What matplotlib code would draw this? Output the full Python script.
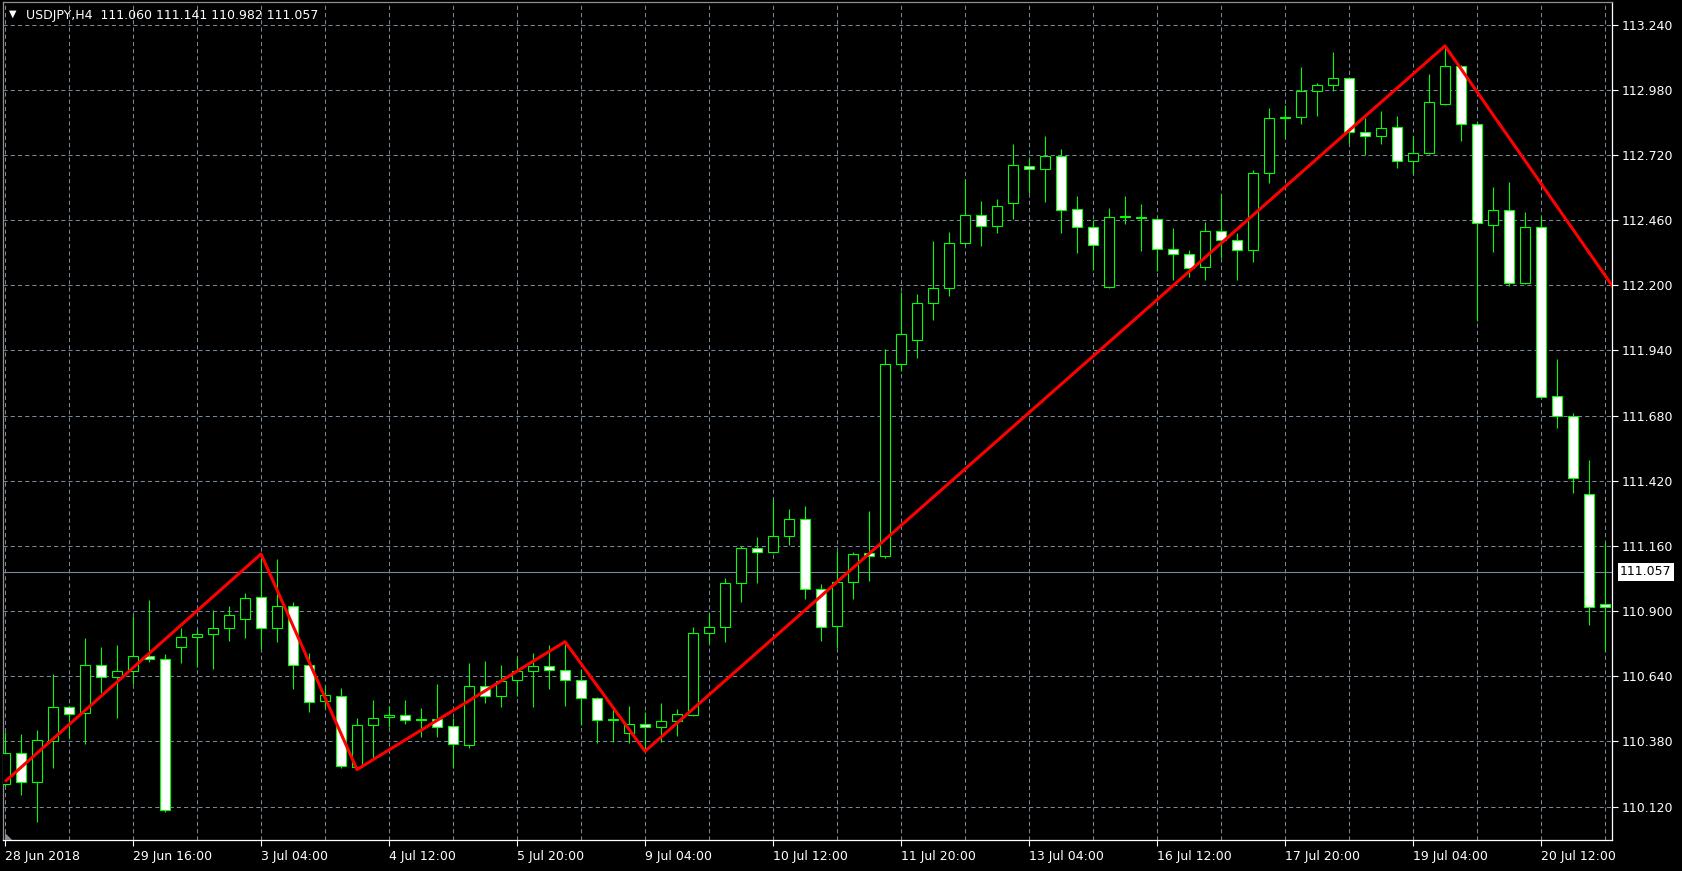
import numpy as np
import matplotlib.pyplot as plt
from matplotlib.patches import Polygon
from matplotlib.transforms import blended_transform_factory

plt.rcParams['lines.scale_dashes'] = False

# USDJPY H4 candles
opens = [110.209, 110.333, 110.217, 110.381, 110.516, 110.493, 110.684, 110.636, 110.660, 110.720,
         110.708, 110.758, 110.796, 110.808, 110.832, 110.867, 110.955, 110.832, 110.919, 110.684,
         110.540, 110.560, 110.280, 110.445, 110.477, 110.485, 110.467, 110.469, 110.441, 110.365,
         110.600, 110.560, 110.624, 110.660, 110.680, 110.664, 110.624, 110.552, 110.467, 110.413,
         110.449, 110.437, 110.461, 110.485, 110.814, 110.836, 111.011, 111.151, 111.135, 111.199,
         111.266, 110.987, 110.840, 111.015, 111.131, 111.119, 111.885, 111.980, 112.128, 112.188,
         112.367, 112.479, 112.435, 112.527, 112.677, 112.662, 112.714, 112.503, 112.431, 112.192,
         112.471, 112.469, 112.463, 112.343, 112.323, 112.271, 112.415, 112.379, 112.339, 112.646,
         112.868, 112.870, 112.974, 112.997, 113.025, 112.810, 112.794, 112.830, 112.694, 112.726,
         112.923, 113.074, 112.845, 112.442, 112.502, 112.208, 112.434, 111.759, 111.677, 111.368,
         110.928]
highs = [110.418, 110.410, 110.425, 110.648, 110.520, 110.792, 110.757, 110.765, 110.881, 110.944,
         110.729, 110.834, 110.830, 110.905, 110.920, 110.971, 111.128, 111.107, 110.936, 110.732,
         110.601, 110.592, 110.473, 110.546, 110.522, 110.546, 110.514, 110.610, 110.473, 110.693,
         110.700, 110.684, 110.716, 110.733, 110.765, 110.778, 110.668, 110.556, 110.508, 110.520,
         110.497, 110.532, 110.508, 110.838, 110.894, 111.032, 111.160, 111.195, 111.347, 111.306,
         111.319, 111.007, 111.139, 111.135, 111.299, 111.944, 112.172, 112.164, 112.376, 112.411,
         112.623, 112.535, 112.543, 112.762, 112.706, 112.795, 112.743, 112.555, 112.459, 112.508,
         112.556, 112.524, 112.465, 112.428, 112.339, 112.452, 112.564, 112.410, 112.658, 112.906,
         112.919, 113.070, 113.005, 113.129, 113.030, 112.866, 112.894, 112.874, 112.794, 113.043,
         113.155, 113.080, 112.850, 112.590, 112.611, 112.492, 112.475, 111.906, 111.692, 111.502,
         111.177]
lows = [110.202, 110.167, 110.060, 110.276, 110.393, 110.371, 110.572, 110.473, 110.608, 110.698,
        110.100, 110.692, 110.678, 110.668, 110.782, 110.794, 110.748, 110.778, 110.591, 110.496,
        110.512, 110.273, 110.268, 110.313, 110.439, 110.449, 110.399, 110.399, 110.273, 110.355,
        110.532, 110.519, 110.560, 110.516, 110.588, 110.520, 110.445, 110.373, 110.377, 110.373,
        110.341, 110.377, 110.401, 110.481, 110.772, 110.778, 110.938, 111.013, 111.130, 111.165,
        110.947, 110.782, 110.752, 110.947, 111.020, 111.113, 111.859, 111.909, 112.060, 112.158,
        112.360, 112.358, 112.407, 112.463, 112.567, 112.533, 112.410, 112.330, 112.260, 112.190,
        112.445, 112.338, 112.258, 112.222, 112.234, 112.222, 112.307, 112.222, 112.291, 112.609,
        112.786, 112.842, 112.874, 112.974, 112.766, 112.718, 112.762, 112.666, 112.642, 112.722,
        112.920, 112.776, 112.056, 112.334, 112.197, 112.205, 111.749, 111.631, 111.372, 110.844,
        110.741]
closes = [110.333, 110.217, 110.385, 110.516, 110.489, 110.684, 110.636, 110.660, 110.720, 110.708,
          110.107, 110.796, 110.808, 110.832, 110.883, 110.951, 110.832, 110.919, 110.684, 110.536,
          110.564, 110.281, 110.445, 110.473, 110.485, 110.465, 110.467, 110.437, 110.369, 110.600,
          110.560, 110.620, 110.660, 110.681, 110.664, 110.624, 110.552, 110.465, 110.467, 110.449,
          110.437, 110.461, 110.489, 110.812, 110.836, 111.011, 111.151, 111.135, 111.199, 111.266,
          110.987, 110.836, 111.015, 111.127, 111.119, 111.885, 112.004, 112.128, 112.188, 112.367,
          112.479, 112.435, 112.515, 112.678, 112.664, 112.714, 112.499, 112.431, 112.359, 112.471,
          112.471, 112.467, 112.343, 112.323, 112.267, 112.415, 112.379, 112.339, 112.646, 112.866,
          112.866, 112.974, 112.997, 113.025, 112.810, 112.794, 112.826, 112.694, 112.726, 112.930,
          113.074, 112.845, 112.447, 112.502, 112.208, 112.434, 111.755, 111.677, 111.433, 110.917,
          110.918]

# ZigZag vertices (bar index, price)
zz_idx = [0, 16, 22, 35, 40, 90, 101]
zz_price = [110.220, 111.128, 110.268, 110.778, 110.341, 113.155, 112.148]

bid = 111.057
title = "USDJPY,H4  111.060 111.141 110.982 111.057"
date_labels = ["28 Jun 2018", "29 Jun 16:00", "3 Jul 04:00", "4 Jul 12:00", "5 Jul 20:00",
               "9 Jul 04:00", "10 Jul 12:00", "11 Jul 20:00", "13 Jul 04:00", "16 Jul 12:00",
               "17 Jul 20:00", "19 Jul 04:00", "20 Jul 12:00"]
price_ticks = np.linspace(110.12, 113.24, 13)

o = np.array(opens)
h = np.array(highs)
l = np.array(lows)
c = np.array(closes)
x = np.arange(len(o))

green = '#00ff00'
grid_col = '#778899'

fig = plt.figure(figsize=(16.82, 8.71), dpi=100, facecolor='black')
ax = fig.add_axes([0.0015, 0.0356, 0.9569, 0.9621])
ax.set_facecolor('black')

# grid
ax.set_xticks(np.arange(0, len(x), 8))
ax.set_xticks(np.arange(0, len(x), 4), minor=True)
ax.set_yticks(price_ticks)
ax.grid(True, which='both', axis='x', color=grid_col, lw=0.75, linestyle=(0, (3, 2.2)), zorder=0)
ax.grid(True, which='major', axis='y', color=grid_col, lw=0.75, linestyle=(0, (3, 2.2)), zorder=0)
ax.set_axisbelow(True)

# bid line
ax.axhline(bid, color=grid_col, lw=0.8, zorder=1)

# candles
ax.vlines(x, l, h, colors=green, lw=0.8, zorder=3)
bottoms = np.minimum(o, c)
heights = np.maximum(np.abs(c - o), 0.004)
fills = np.where(c > o, 'black', 'white')
ax.bar(x, heights, width=0.6, bottom=bottoms, color=fills, edgecolor=green,
       linewidth=0.8, zorder=4)

# zigzag
ax.plot(zz_idx, zz_price, color='#ff0000', lw=2.2, zorder=5, solid_capstyle='butt')

ax.set_xlim(-0.156, 100.44)
ax.set_ylim(109.987, 113.330)

ax.set_xticklabels(date_labels, ha='left')
ax.set_yticklabels([f"{v:.3f}" for v in price_ticks])
ax.yaxis.tick_right()
ax.tick_params(axis='x', which='major', colors='white', length=4, width=0.8, pad=3, labelsize=9)
ax.tick_params(axis='x', which='minor', length=0)
ax.tick_params(axis='y', colors='white', length=4, width=0.8, pad=3, labelsize=9)
for side in ['bottom', 'right']:
    ax.spines[side].set_color('white')
for side in ['top', 'left']:
    ax.spines[side].set_color('#909090')
for sp in ax.spines.values():
    sp.set_linewidth(0.9)

# bid price box on the scale
tr = blended_transform_factory(ax.transAxes, ax.transData)
ax.text(1.005, bid, f"{bid:.3f}", transform=tr, ha='left', va='center', fontsize=9,
        color='black', bbox=dict(facecolor='white', edgecolor='none', boxstyle='square,pad=0.2'),
        clip_on=False, zorder=6)

# header
fig.text(13 / 1682, 1 - 14 / 871, '\u25bc', color='white', fontsize=7, ha='center', va='center')
fig.text(26 / 1682, 1 - 15.5 / 871, title, color='white', fontsize=9, ha='left', va='center')

# chart shift marker in the corner
ax.add_patch(Polygon([[0.0015, 0.0], [0.0060, 0.0], [0.0015, 0.0085]], closed=True,
                     transform=ax.transAxes, facecolor='#8a9099', edgecolor='none', zorder=6))

fig.savefig('out.png', dpi=100, facecolor='black')
